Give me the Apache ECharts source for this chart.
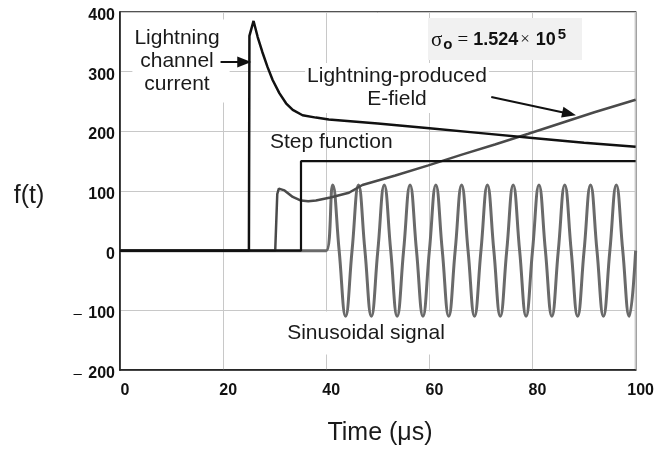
<!DOCTYPE html>
<html><head><meta charset="utf-8">
<script src="https://cdn.jsdelivr.net/npm/echarts@6/dist/echarts.min.js"></script>
<style>html,body{margin:0;padding:0;background:#fff}#c{width:657px;height:449px}</style>
</head><body><div id="c"></div>
<script>
// ---- data ----
const xTicks = [0, 20, 40, 60, 80, 100];
const yTicks = [-200, -100, 0, 100, 200, 300, 400];

// Lightning channel current
const currentT = [0, 25, 25.1, 25.9, 26.7, 27.6, 28.6, 29.6, 30.9, 32.2, 33.5, 35.4, 38, 40.5, 50, 60, 70, 80, 90, 100];
const currentV = [0, 0, 360, 385, 358, 333, 308, 286, 264, 247, 236, 227, 223, 220, 213, 205, 197, 189, 181, 174];

// Step function
const stepT = [0, 35.1, 35.1, 100];
const stepV = [0, 0, 150, 150];

// Lightning-produced E-field
const efieldT = [0, 30.1, 30.5, 30.8, 31.9, 33.5, 35.1, 36.5, 38, 40.8, 44.4, 47, 53.4, 59.8, 66.3, 72.7, 79.2, 85.6, 92, 100];
const efieldV = [0, 0, 95, 104, 101, 90, 84, 83, 84, 89, 97, 110, 126, 143, 161, 178, 196, 214, 232, 253];

// Sinusoidal signal (peaks / zero crossings / troughs)
const sineT = [0, 38.75, 40, 41.25, 42.5, 43.75, 45, 46.25, 47.5, 48.75, 50, 51.25, 52.5, 53.75, 55, 56.25, 57.5, 58.75, 60,
  61.25, 62.5, 63.75, 65, 66.25, 67.5, 68.75, 70, 71.25, 72.5, 73.75, 75, 76.25, 77.5, 78.75, 80,
  81.25, 82.5, 83.75, 85, 86.25, 87.5, 88.75, 90, 91.25, 92.5, 93.75, 95, 96.25, 97.5, 98.75, 100];
const sineV = [0, 0, 0, 110, 0, -110, 0, 110, 0, -110, 0, 110, 0, -110, 0, 110, 0, -110, 0,
  110, 0, -110, 0, 110, 0, -110, 0, 110, 0, -110, 0, 110, 0, -110, 0,
  110, 0, -110, 0, 110, 0, -110, 0, 110, 0, -110, 0, 110, 0, -110, 0];

// annotation arrows (data coordinates)
const arrow1 = [[19.5, 316], [24.1, 316]];
const arrow2 = [[72.0, 257.5], [87.1, 229.6]];

const zip = (a, b) => a.map((v, i) => [v, b[i]]);

const chart = echarts.init(document.getElementById('c'), null, {renderer: 'canvas'});
const SANS = 'Liberation Sans';
const lblStyle = {color: '#111', fontFamily: SANS, fontWeight: 'bold', fontSize: 16};

chart.setOption({
  animation: false,
  backgroundColor: '#fff',
  grid: {left: 120, right: 19, top: 12, bottom: 79, show: true, borderColor: '#1a1a1a', borderWidth: 1.5, backgroundColor: 'transparent'},
  xAxis: {
    type: 'value', min: xTicks[0], max: xTicks[xTicks.length - 1], interval: xTicks[1] - xTicks[0],
    axisLine: {show: true, onZero: false, lineStyle: {color: '#1a1a1a', width: 1.5}},
    axisTick: {show: false},
    splitLine: {show: true, lineStyle: {color: '#c8c8c8', width: 1}},
    axisLabel: Object.assign({margin: 13, padding: [0, 0, 0, 10]}, lblStyle)
  },
  yAxis: {
    type: 'value', min: yTicks[0], max: yTicks[yTicks.length - 1], interval: yTicks[1] - yTicks[0],
    axisLine: {show: true, onZero: false, lineStyle: {color: '#1a1a1a', width: 1.5}},
    axisTick: {show: false},
    splitLine: {show: true, lineStyle: {color: '#c8c8c8', width: 1}},
    axisLabel: Object.assign({
      margin: 5, padding: [7, 0, 0, 0],
      formatter: v => v < 0 ? '{m|\u2013} ' + Math.abs(v) : String(v),
      rich: {m: {fontFamily: SANS, fontWeight: 'normal', fontSize: 15, color: '#111', padding: [0, 2, 0, 0]}}
    }, lblStyle)
  },
  series: [
    {type: 'line', name: 'Sinusoidal signal', data: zip(sineT, sineV), showSymbol: false, smooth: 0.45,
      lineStyle: {color: '#6a6a6a', width: 3}, silent: true, z: 2},
    {type: 'line', name: 'E-field', data: zip(efieldT, efieldV), showSymbol: false,
      lineStyle: {color: '#4a4a4a', width: 2.5}, silent: true, z: 3},
    {type: 'line', name: 'Step function', data: zip(stepT, stepV), showSymbol: false,
      lineStyle: {color: '#111', width: 2.2}, silent: true, z: 4},
    {type: 'line', name: 'Lightning channel current', data: zip(currentT, currentV), showSymbol: false,
      lineStyle: {color: '#111', width: 2.5}, silent: true, z: 5,
      markLine: {
        silent: true, symbol: ['none', 'triangle'], symbolSize: [11, 14],
        label: {show: false},
        lineStyle: {color: '#111', width: 2, type: 'solid'},
        emphasis: {disabled: true},
        data: [
          [{coord: arrow1[0]}, {coord: arrow1[1]}],
          [{coord: arrow2[0]}, {coord: arrow2[1]}]
        ]
      }}
  ],
  graphic: [
    {type: 'rect', z: 1, shape: {x: 428, y: 18, width: 154, height: 42}, style: {fill: '#f1f1f1'}},
    {type: 'text', z: 1, x: 431, y: 40, style: {
      text: '{s|\u03c3}{o|o}{n|=}{b|1.524}{x|\u00d7}{b|10}{p|5}',
      verticalAlign: 'middle', textVerticalAlign: 'middle',
      rich: {
        s: {fontFamily: 'Liberation Serif', fontSize: 21, fill: '#111'},
        o: {fontFamily: SANS, fontWeight: 'bold', fontSize: 15, fill: '#111', verticalAlign: 'bottom', padding: [10, 0, 0, 1]},
        n: {fontFamily: 'Liberation Serif', fontSize: 19, fill: '#111', padding: [0, 5, 0, 5]},
        x: {fontFamily: 'Liberation Serif', fontSize: 17, fill: '#111', padding: [0, 6, 0, 2]},
        b: {fontFamily: SANS, fontWeight: 'bold', fontSize: 18, fill: '#111'},
        p: {fontFamily: SANS, fontWeight: 'bold', fontSize: 15, fill: '#111', verticalAlign: 'top', padding: [0, 0, 9, 2]}
      }
    }},
    {type: 'text', z: 1, x: 181, y: 61, style: {
      text: 'Lightning\nchannel\ncurrent', font: '21px "Liberation Sans"', fill: '#1a1a1a', lineHeight: 23,
      align: 'center', textAlign: 'center', verticalAlign: 'middle', textVerticalAlign: 'middle',
      backgroundColor: '#fff', padding: [3, 10, 11, 2]
    }},
    {type: 'text', z: 1, x: 397, y: 88, style: {
      text: 'Lightning-produced\nE-field', font: '21px "Liberation Sans"', fill: '#1a1a1a', lineHeight: 23,
      align: 'center', textAlign: 'center', verticalAlign: 'middle', textVerticalAlign: 'middle',
      backgroundColor: '#fff', padding: [2, 2, 2, 2]
    }},
    {type: 'text', z: 1, x: 270, y: 142, style: {
      text: 'Step function', font: '21px "Liberation Sans"', fill: '#1a1a1a',
      align: 'left', textAlign: 'left', verticalAlign: 'middle', textVerticalAlign: 'middle'
    }},
    {type: 'text', z: 1, x: 366, y: 333, style: {
      text: 'Sinusoidal signal', font: '21px "Liberation Sans"', fill: '#1a1a1a',
      align: 'center', textAlign: 'center', verticalAlign: 'middle', textVerticalAlign: 'middle',
      backgroundColor: '#fff', padding: [4, 4, 18, 4]
    }},
    {type: 'text', z: 1, x: 29, y: 196, style: {
      text: 'f(t)', font: '25px "Liberation Sans"', fill: '#1a1a1a',
      align: 'center', textAlign: 'center', verticalAlign: 'middle', textVerticalAlign: 'middle'
    }},
    {type: 'text', z: 1, x: 380, y: 433, style: {
      text: 'Time (\u03bcs)', font: '25px "Liberation Sans"', fill: '#1a1a1a',
      align: 'center', textAlign: 'center', verticalAlign: 'middle', textVerticalAlign: 'middle'
    }}
  ]
});
</script>
</body></html>
